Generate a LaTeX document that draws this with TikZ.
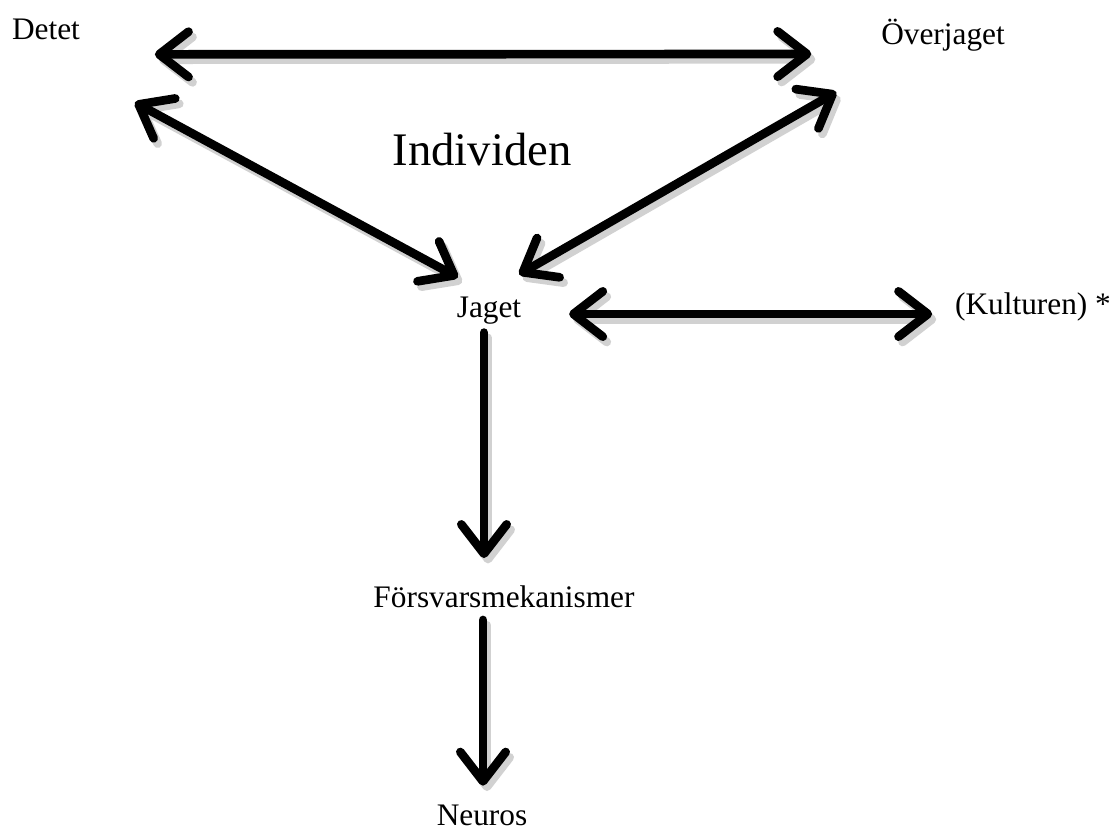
\documentclass[tikz,border=0pt]{standalone}
\usepackage{fontspec}
\setmainfont{Liberation Serif}
\usetikzlibrary{arrows.meta}
\begin{document}
\begin{tikzpicture}[x=0.75pt,y=-0.75pt,
    font=\fontsize{23.5}{28}\selectfont,
    every node/.style={inner sep=2pt},
    shadowed/.style={preaction={draw=black!18, transform canvas={shift={(3pt,-4pt)}}}}]
      \useasboundingbox (0,0) rectangle (1119,833);
      \draw
        (46,29) node (detet){Detet}
        (943,35) node (overjaget){Överjaget}
        (482,150) node[font=\fontsize{35}{40}\selectfont] (individen){Individen}
        (489,311) node (jaget){Jaget}
        (1033,307) node (kulturen){(Kulturen) *}
        (504,597) node (forsvar){Försvarsmekanismer}
        (482,815) node (neuros){Neuros};
      \begin{scope}[<->, line width=6.5pt, line cap=round,
          >={Straight Barb[length=22pt,width=34pt,round]}]
        \draw[shadowed] ([shift={(72,12)}]detet.south east) to ([shift={(-67,19)}]overjaget.west);
        \draw[shadowed] ([shift={(52,60)}]detet.south east) to ([shift={(4,-17)}]jaget.north west);
        \draw[shadowed] ([shift={(-42,38)}]overjaget.south west) to ([shift={(-5,-20)}]jaget.north east);
        \draw[shadowed] ([shift={(45,3)}]jaget.east) to ([shift={(-20,7)}]kulturen.west);
        \draw[shadowed,->] ([shift={(-5,5)}]jaget.south) to ([shift={(-20,-25)}]forsvar.north);
        \draw[shadowed,->] ([shift={(-21,9)}]forsvar.south) to ([shift={(1,-16)}]neuros.north);
      \end{scope}
    \end{tikzpicture}
\end{document}
